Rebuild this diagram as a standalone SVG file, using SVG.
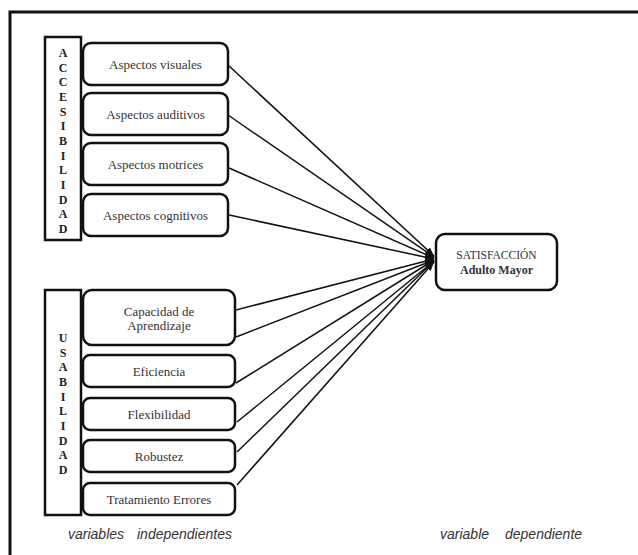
<svg xmlns="http://www.w3.org/2000/svg" width="638" height="555" viewBox="0 0 638 555">
<style>
.frame{fill:none;stroke:#111;stroke-width:3}
.bar{fill:#fff;stroke:#111;stroke-width:2.5}
.box{fill:#fff;stroke:#111;stroke-width:2.5}
.lbl{font-family:"Liberation Serif","Times New Roman",serif;font-size:13px;fill:#333;text-anchor:middle}
.vert{font-family:"Liberation Serif","Times New Roman",serif;font-size:12px;font-weight:bold;fill:#222;text-anchor:middle}
.conn line{stroke:#111;stroke-width:1.5;marker-end:url(#arr)}
.cap{font-family:"Liberation Sans",Arial,sans-serif;font-size:14px;font-style:italic;fill:#333}
</style>
<defs>
<marker id="arr" markerUnits="userSpaceOnUse" markerWidth="10" markerHeight="8" refX="9" refY="4" orient="auto">
<path d="M0,0.5 L9,4 L0,7.5 z" fill="#111"/>
</marker>
</defs>
<rect width="638" height="555" fill="#fff"/>
<path class="frame" d="M10,555 V12 H640"/>

<g id="accesibilidad">
<rect class="bar" x="45" y="37" width="36" height="203"/>
<text class="vert"><tspan x="63" y="57">A</tspan><tspan x="63" y="71.7">C</tspan><tspan x="63" y="86.3">C</tspan><tspan x="63" y="101">E</tspan><tspan x="63" y="115.7">S</tspan><tspan x="63" y="130.3">I</tspan><tspan x="63" y="145">B</tspan><tspan x="63" y="159.7">I</tspan><tspan x="63" y="174.3">L</tspan><tspan x="63" y="189">I</tspan><tspan x="63" y="203.7">D</tspan><tspan x="63" y="218.3">A</tspan><tspan x="63" y="233">D</tspan></text>
</g>
<g id="visuales"><rect class="box" x="83" y="43" width="145" height="42" rx="8"/><text class="lbl" x="155.5" y="68.5">Aspectos visuales</text></g>
<g id="auditivos"><rect class="box" x="83" y="93" width="145" height="42" rx="8"/><text class="lbl" x="155.5" y="118.5">Aspectos auditivos</text></g>
<g id="motrices"><rect class="box" x="83" y="143" width="145" height="42" rx="8"/><text class="lbl" x="155.5" y="168.5">Aspectos motrices</text></g>
<g id="cognitivos"><rect class="box" x="83" y="194" width="145" height="42" rx="8"/><text class="lbl" x="155.5" y="219.5">Aspectos cognitivos</text></g>

<g id="usabilidad">
<rect class="bar" x="45" y="290" width="36" height="225"/>
<text class="vert"><tspan x="63" y="342">U</tspan><tspan x="63" y="356.7">S</tspan><tspan x="63" y="371.3">A</tspan><tspan x="63" y="386">B</tspan><tspan x="63" y="400.7">I</tspan><tspan x="63" y="415.3">L</tspan><tspan x="63" y="430">I</tspan><tspan x="63" y="444.7">D</tspan><tspan x="63" y="459.3">A</tspan><tspan x="63" y="474">D</tspan></text>
</g>
<g id="capacidad"><rect class="box" x="83" y="290" width="152" height="55" rx="9"/><text class="lbl" x="159" y="316">Capacidad de</text><text class="lbl" x="159" y="330">Aprendizaje</text></g>
<g id="eficiencia"><rect class="box" x="83" y="355" width="152" height="32" rx="7"/><text class="lbl" x="159" y="375.5">Eficiencia</text></g>
<g id="flexibilidad"><rect class="box" x="83" y="398" width="152" height="32" rx="7"/><text class="lbl" x="159" y="418.5">Flexibilidad</text></g>
<g id="robustez"><rect class="box" x="83" y="440" width="152" height="32" rx="7"/><text class="lbl" x="159" y="460.5">Robustez</text></g>
<g id="tratamiento"><rect class="box" x="83" y="483" width="152" height="32" rx="7"/><text class="lbl" x="159" y="503.5">Tratamiento Errores</text></g>

<g id="satisfaccion">
<rect class="box" x="436" y="234" width="121" height="56" rx="9"/>
<text class="lbl" x="496.5" y="259" style="font-size:11.5px">SATISFACCIÓN</text>
<text class="lbl" x="496.5" y="274" style="font-size:12px;font-weight:bold">Adulto Mayor</text>
</g>

<g id="connectors" class="conn">
<line x1="228" y1="65" x2="434" y2="256"/>
<line x1="228" y1="115" x2="434" y2="257"/>
<line x1="229" y1="168" x2="434" y2="258"/>
<line x1="229" y1="215" x2="434" y2="259"/>
<line x1="236" y1="310" x2="434" y2="259"/>
<line x1="236" y1="337" x2="434" y2="260"/>
<line x1="236" y1="383" x2="434" y2="260"/>
<line x1="237" y1="422" x2="434" y2="261"/>
<line x1="237" y1="452" x2="434" y2="261"/>
<line x1="237" y1="485" x2="434" y2="262"/>
</g>

<text class="cap"><tspan x="68" y="539">variables</tspan><tspan x="137" y="539">independientes</tspan></text>
<text class="cap"><tspan x="440" y="539">variable</tspan><tspan x="505" y="539">dependiente</tspan></text>
</svg>
